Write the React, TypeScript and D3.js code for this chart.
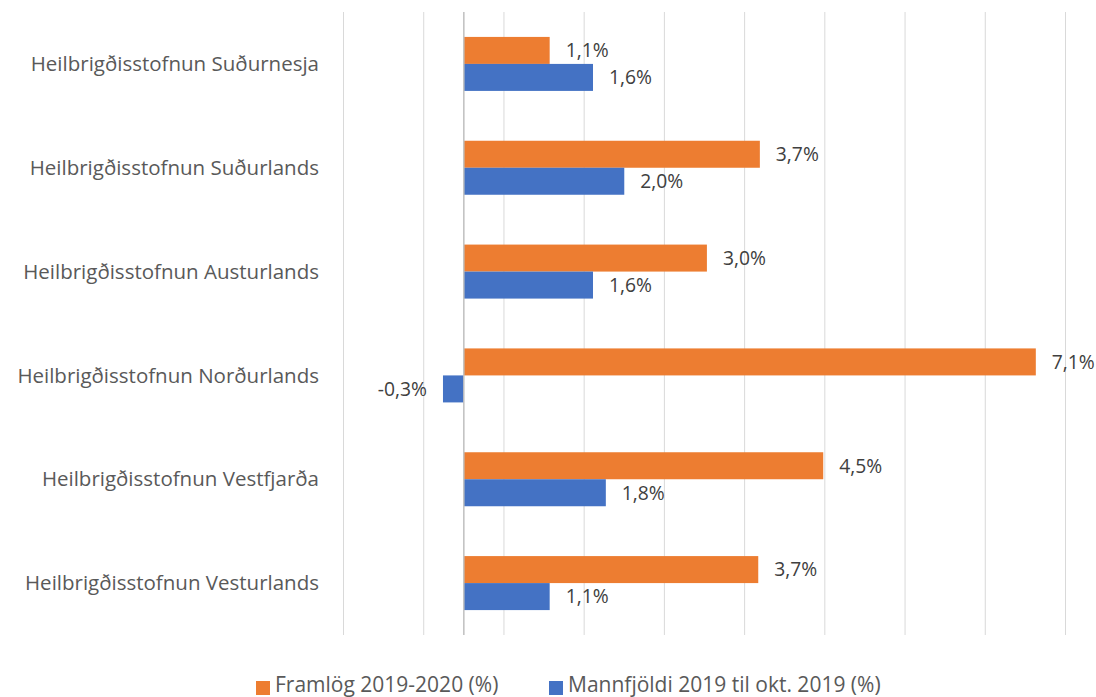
import React from "react";
import * as d3 from "d3";

const categories = [
  "Heilbrigðisstofnun Suðurnesja",
  "Heilbrigðisstofnun Suðurlands",
  "Heilbrigðisstofnun Austurlands",
  "Heilbrigðisstofnun Norðurlands",
  "Heilbrigðisstofnun Vestfjarða",
  "Heilbrigðisstofnun Vesturlands",
];
const framlog = [1.07, 3.69, 3.03, 7.13, 4.48, 3.67];
const framlogLabels = ["1,1%", "3,7%", "3,0%", "7,1%", "4,5%", "3,7%"];
const mannfjoldi = [1.61, 2.0, 1.61, -0.26, 1.77, 1.07];
const mannfjoldiLabels = ["1,6%", "2,0%", "1,6%", "-0,3%", "1,8%", "1,1%"];
const gridValues = [-1.5, -0.5, 0.5, 1.5, 2.5, 3.5, 4.5, 5.5, 6.5, 7.5];
const seriesNames = ["Framlög 2019-2020 (%)", "Mannfjöldi 2019 til okt. 2019 (%)"];

const ORANGE = "#ED7D31";
const BLUE = "#4472C4";
const FONT = "'Open Sans', sans-serif";

export default function App() {
  const W = 1096, H = 697;
  const x = d3.scaleLinear().domain([-1.5, 7.5]).range([343.5, 1065.5]);
  const y = d3.scaleBand<string>().domain(categories).range([12, 635]).paddingInner(0).paddingOuter(0);
  const bh = 27;
  return (
    <svg width={W} height={H} style={{ position: "absolute", left: 0, top: 0 }} fontFamily={FONT}>
      <rect width={W} height={H} fill="#fff" />
      {gridValues.map((g) => (
        <line key={g} x1={x(g)} x2={x(g)} y1={12} y2={635} stroke="#D9D9D9" strokeWidth={1} />
      ))}
      {categories.map((c, i) => {
        const cy = (y(c) as number) + y.bandwidth() / 2;
        const o0 = Math.min(x(0), x(framlog[i]));
        const o1 = Math.max(x(0), x(framlog[i]));
        const b0 = Math.min(x(0), x(mannfjoldi[i]));
        const b1 = Math.max(x(0), x(mannfjoldi[i]));
        const negB = mannfjoldi[i] < 0;
        return (
          <g key={c}>
            <text x={319} y={cy} dy="0.35em" textAnchor="end" fontSize={20.5} fill="#595959">{c}</text>
            <rect x={o0} y={cy - bh} width={o1 - o0} height={bh} fill={ORANGE} />
            <rect x={b0} y={cy} width={b1 - b0} height={bh} fill={BLUE} />
            <text x={x(framlog[i]) + 16} y={cy - bh / 2} dy="0.35em" fontSize={19.3} fill="#404040">{framlogLabels[i]}</text>
            <text x={negB ? x(mannfjoldi[i]) - 16 : x(mannfjoldi[i]) + 16} y={cy + bh / 2} dy="0.35em" textAnchor={negB ? "end" : "start"} fontSize={19.3} fill="#404040">{mannfjoldiLabels[i]}</text>
          </g>
        );
      })}
      <line x1={x(0)} x2={x(0)} y1={12} y2={635} stroke="#BFBFBF" strokeWidth={1.5} />
      <g>
        <rect x={256} y={681} width={14} height={14} fill={ORANGE} />
        <text x={275} y={691.5} fontSize={21} fill="#595959">{seriesNames[0]}</text>
        <rect x={549} y={681} width={14} height={14} fill={BLUE} />
        <text x={568} y={691.5} fontSize={21} fill="#595959">{seriesNames[1]}</text>
      </g>
    </svg>
  );
}
